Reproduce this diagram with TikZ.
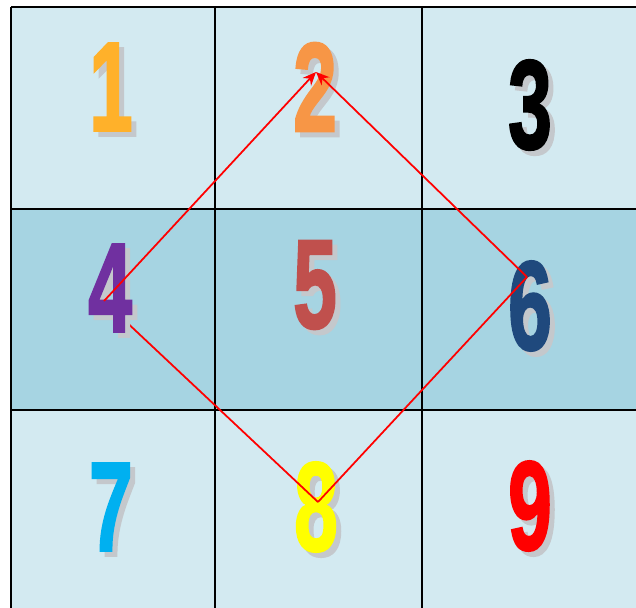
\documentclass[tikz,border=0pt]{standalone}
\usepackage{fontspec}
\setmainfont{Liberation Sans}
\newfontfamily\numfont{Liberation Sans}[BoldFeatures={FakeBold=2}]
\usepackage{xcolor}
\usetikzlibrary{arrows.meta}

\definecolor{cellpale}{HTML}{D3EAF1}
\definecolor{cellmid}{HTML}{A6D4E2}
\definecolor{shade}{HTML}{C4C8CC}
\definecolor{numA}{HTML}{FFB12A}
\definecolor{numB}{HTML}{F79646}
\definecolor{numC}{HTML}{000000}
\definecolor{numD}{HTML}{7030A0}
\definecolor{numE}{HTML}{C0504D}
\definecolor{numF}{HTML}{1F497D}
\definecolor{numG}{HTML}{00B0F0}
\definecolor{numH}{HTML}{FFFF00}
\definecolor{numI}{HTML}{FF0000}

\begin{document}
\begin{tikzpicture}[x=0.03cm, y=-0.03cm,
  grid/.style={draw=black, line width=1.4pt},
  digit/.style={font=\numfont\fontsize{60}{60}\selectfont\bfseries, text=#1, inner sep=0pt},
  ghost/.style={digit=shade},
  link/.style={red, line width=1.5pt},
  arrowlink/.style={link, -{Stealth[length=0.4cm, width=0.34cm]}}
]
  \useasboundingbox (0,0) rectangle (636,607);
  \clip (0,0) rectangle (636,607);

  % board
  \fill[cellpale] (11,7) rectangle (640,209);
  \fill[cellmid] (11,209) rectangle (640,410);
  \fill[cellpale] (11,410) rectangle (640,612);
  \foreach \gx in {11,215,422}
    \draw[grid] (\gx,7) -- (\gx,612);
  \foreach \gy in {7,209,410}
    \draw[grid] (11,\gy) -- (640,\gy);

  % end points of the path
  \coordinate (p2) at (316,72);
  \coordinate (p4) at (104,301);
  \coordinate (p6) at (527,277);
  \coordinate (p8) at (318,502);

  % numbers
  \foreach \n/\x/\y/\c in {1/111/87/numA, 2/315/87/numB, 3/530/105/numC,
      5/315/285/numE, 6/530/306/numF, 7/111/507/numG, 8/316/507/numH, 9/530/506/numI} {
    \node[ghost] at (\x+5,\y+5) {\scalebox{1.12}[1.8]{\n}};
    \node[digit=\c] (d\n) at (\x,\y) {\scalebox{1.12}[1.8]{\n}};
  }

  \draw[link] (p4) -- (p8);

  \node[ghost] at (115,293) {\scalebox{1.12}[1.8]{4}};
  \node[digit=numD] (d4) at (110,288) {\scalebox{1.12}[1.8]{4}};

  \draw[arrowlink] (p4) -- (p2);
  \draw[arrowlink] (p6) -- (p2);
  \draw[link] (p8) -- (p6);
\end{tikzpicture}
\end{document}
